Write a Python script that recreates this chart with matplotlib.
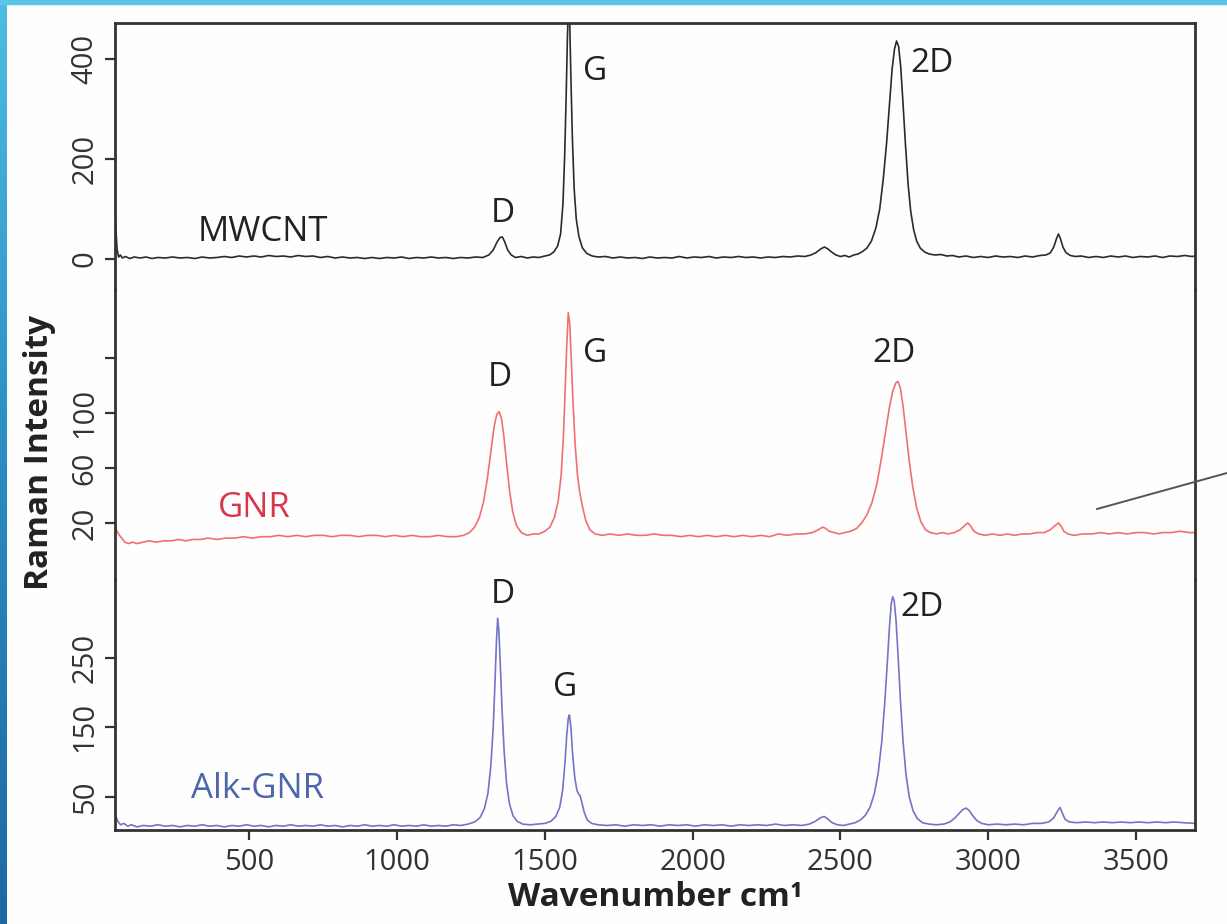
import numpy as np
import matplotlib
matplotlib.use("Agg")
import matplotlib.pyplot as plt
from matplotlib.colors import LinearSegmentedColormap
from matplotlib.patches import Rectangle
from matplotlib.lines import Line2D

plt.rcParams['font.family'] = ['Open Sans', 'DejaVu Sans']

# spectra: (wavenumber, intensity)
mwcnt = [(45, 95), (48, 60), (52, 20), (57, 4), (63, 8), (70, 2), (80, 5), (95, 1), (110, 4), (130, 2),
         (150, 4), (170, 1), (190, 3), (215, 2), (240, 4), (265, 2), (290, 3), (315, 1), (340, 4), (365, 2),
         (390, 3), (415, 5), (440, 3), (465, 6), (490, 4), (515, 6), (540, 4), (565, 7), (590, 5), (615, 6),
         (640, 4), (665, 7), (690, 5), (715, 6), (740, 3), (765, 5), (790, 2), (815, 4), (840, 2), (865, 3),
         (890, 1), (915, 3), (940, 1), (965, 3), (990, 2), (1015, 4), (1040, 1), (1065, 3), (1090, 2),
         (1115, 4), (1140, 2), (1165, 3), (1190, 1), (1215, 3), (1240, 2), (1265, 4), (1290, 3), (1310, 8),
         (1325, 18), (1338, 34), (1348, 43), (1356, 44), (1364, 34), (1374, 18), (1386, 8), (1400, 3),
         (1420, 5), (1440, 2), (1460, 4), (1480, 3), (1500, 6), (1515, 8), (1530, 14), (1543, 26), (1553, 50),
         (1561, 110), (1567, 210), (1572, 330), (1576, 440), (1580, 520), (1584, 470), (1588, 360),
         (1593, 240), (1599, 140), (1606, 80), (1615, 45), (1627, 22), (1642, 11), (1660, 6), (1680, 4),
         (1705, 5), (1730, 2), (1755, 4), (1780, 2), (1805, 3), (1830, 1), (1855, 4), (1880, 2), (1905, 3),
         (1930, 2), (1955, 5), (1980, 2), (2005, 4), (2030, 3), (2055, 5), (2080, 2), (2105, 4), (2130, 3),
         (2155, 5), (2180, 3), (2205, 4), (2230, 2), (2255, 4), (2280, 3), (2305, 5), (2330, 4), (2355, 6),
         (2380, 5), (2400, 8), (2418, 13), (2433, 20), (2446, 24), (2458, 20), (2470, 14), (2485, 8),
         (2500, 5), (2515, 7), (2530, 4), (2545, 8), (2560, 10), (2575, 15), (2590, 22), (2605, 36),
         (2620, 62), (2633, 100), (2645, 160), (2656, 230), (2666, 310), (2675, 380), (2683, 420),
         (2690, 436), (2697, 425), (2704, 385), (2712, 310), (2720, 230), (2729, 150), (2738, 95),
         (2748, 58), (2758, 36), (2770, 22), (2785, 14), (2800, 10), (2820, 8), (2840, 9), (2860, 6),
         (2880, 7), (2900, 4), (2925, 6), (2950, 3), (2975, 5), (3000, 3), (3025, 6), (3050, 4), (3075, 5),
         (3100, 3), (3125, 6), (3150, 4), (3175, 7), (3195, 8), (3210, 12), (3222, 24), (3232, 42),
         (3238, 50), (3245, 40), (3253, 24), (3263, 13), (3278, 7), (3295, 5), (3315, 6), (3340, 3),
         (3365, 5), (3390, 3), (3415, 6), (3440, 4), (3465, 6), (3490, 3), (3515, 5), (3540, 4), (3565, 6),
         (3590, 3), (3615, 6), (3640, 5), (3665, 7), (3690, 5), (3700, 6)]

gnr = [(45, 16), (52, 14), (60, 11), (68, 9), (78, 6), (90, 5), (105, 6), (120, 5), (140, 6), (160, 7),
       (185, 6), (210, 7), (235, 7), (260, 8), (285, 7), (310, 8), (335, 8), (360, 9), (390, 8), (420, 9),
       (450, 9), (480, 10), (510, 9), (540, 10), (570, 10), (600, 11), (630, 10), (660, 11), (690, 10),
       (720, 11), (750, 11), (780, 10), (810, 11), (840, 11), (870, 10), (900, 11), (930, 11), (960, 10),
       (990, 11), (1020, 10), (1050, 11), (1080, 10), (1110, 10), (1140, 11), (1170, 10), (1200, 10),
       (1225, 11), (1245, 13), (1262, 17), (1278, 24), (1292, 35), (1305, 52), (1317, 72), (1328, 90),
       (1337, 99), (1345, 101), (1353, 96), (1361, 83), (1370, 64), (1380, 44), (1391, 28), (1404, 18),
       (1420, 13), (1440, 11), (1460, 12), (1480, 12), (1500, 14), (1517, 17), (1532, 24), (1545, 36),
       (1555, 55), (1563, 85), (1569, 120), (1574, 150), (1579, 173), (1584, 165), (1589, 140),
       (1595, 108), (1602, 78), (1610, 55), (1618, 42), (1627, 32), (1638, 22), (1652, 15), (1670, 12),
       (1695, 11), (1720, 12), (1750, 11), (1780, 12), (1810, 11), (1840, 11), (1870, 12), (1900, 11),
       (1930, 11), (1960, 10), (1990, 11), (2020, 10), (2050, 11), (2080, 10), (2110, 11), (2140, 10),
       (2170, 11), (2200, 10), (2230, 11), (2260, 10), (2290, 12), (2320, 11), (2350, 12), (2380, 12),
       (2405, 13), (2425, 15), (2440, 17), (2450, 16), (2462, 14), (2478, 13), (2495, 12), (2515, 13),
       (2535, 14), (2555, 16), (2572, 20), (2590, 26), (2607, 35), (2623, 48), (2638, 66), (2652, 85),
       (2665, 103), (2677, 116), (2688, 122), (2695, 123), (2703, 118), (2712, 105), (2722, 86),
       (2733, 65), (2745, 46), (2758, 31), (2772, 21), (2788, 15), (2805, 13), (2825, 12), (2845, 13),
       (2865, 12), (2885, 13), (2905, 15), (2920, 18), (2931, 20), (2940, 18), (2952, 14), (2968, 12),
       (2990, 11), (3015, 12), (3040, 11), (3065, 12), (3090, 11), (3115, 12), (3140, 12), (3165, 13),
       (3190, 13), (3210, 15), (3226, 18), (3238, 20), (3246, 18), (3256, 14), (3270, 12), (3290, 11),
       (3320, 12), (3350, 12), (3380, 13), (3410, 12), (3440, 13), (3470, 12), (3500, 13), (3530, 13),
       (3560, 12), (3590, 13), (3620, 13), (3650, 14), (3680, 13), (3700, 13)]

alk_gnr = [(45, 24), (50, 20), (56, 14), (64, 10), (75, 12), (88, 8), (100, 10), (120, 7), (140, 9),
           (165, 8), (190, 10), (215, 8), (240, 9), (265, 7), (290, 9), (315, 8), (340, 10), (365, 8),
           (390, 9), (415, 7), (440, 9), (465, 8), (490, 10), (515, 8), (540, 9), (565, 7), (590, 9),
           (615, 8), (640, 10), (665, 8), (690, 9), (715, 8), (740, 10), (765, 8), (790, 9), (815, 7),
           (840, 9), (865, 8), (890, 10), (915, 8), (940, 9), (965, 8), (990, 10), (1015, 8), (1040, 9),
           (1065, 8), (1090, 10), (1115, 8), (1140, 9), (1165, 8), (1190, 10), (1215, 9), (1240, 11),
           (1262, 14), (1280, 20), (1295, 33), (1307, 55), (1317, 95), (1325, 150), (1331, 215),
           (1336, 275), (1340, 307), (1344, 290), (1349, 240), (1355, 175), (1362, 115), (1370, 70),
           (1380, 40), (1392, 23), (1406, 15), (1425, 11), (1450, 10), (1475, 11), (1500, 12), (1520, 15),
           (1537, 22), (1550, 35), (1560, 60), (1568, 100), (1574, 140), (1579, 163), (1583, 168),
           (1588, 150), (1594, 110), (1601, 78), (1608, 60), (1614, 54), (1619, 52), (1625, 42),
           (1633, 28), (1643, 17), (1658, 12), (1680, 10), (1710, 9), (1740, 10), (1770, 8), (1800, 10),
           (1830, 9), (1860, 10), (1890, 8), (1920, 10), (1950, 9), (1980, 10), (2010, 8), (2040, 10),
           (2070, 9), (2100, 10), (2130, 8), (2160, 10), (2190, 9), (2220, 10), (2250, 9), (2280, 11),
           (2310, 9), (2340, 10), (2370, 9), (2395, 11), (2415, 15), (2432, 20), (2445, 22), (2458, 18),
           (2472, 13), (2490, 10), (2510, 9), (2530, 11), (2550, 13), (2568, 17), (2585, 24), (2600, 35),
           (2615, 55), (2628, 85), (2640, 130), (2650, 185), (2659, 245), (2666, 295), (2672, 328),
           (2677, 338), (2682, 332), (2688, 305), (2695, 255), (2703, 190), (2712, 130), (2722, 82),
           (2733, 50), (2746, 30), (2760, 19), (2778, 13), (2800, 11), (2825, 10), (2850, 11), (2870, 14),
           (2888, 20), (2903, 27), (2915, 32), (2925, 34), (2935, 31), (2948, 23), (2962, 16), (2978, 12),
           (3000, 10), (3030, 11), (3060, 10), (3090, 11), (3120, 10), (3150, 12), (3180, 12), (3205, 14),
           (3222, 20), (3235, 30), (3243, 35), (3250, 28), (3260, 18), (3275, 14), (3300, 13), (3330, 14),
           (3360, 13), (3390, 14), (3420, 13), (3450, 14), (3480, 13), (3510, 14), (3540, 13), (3570, 14),
           (3600, 13), (3630, 14), (3660, 13), (3700, 12)]

x_ticks = [500, 1000, 1500, 2000, 2500, 3000, 3500]
panel_names = ['MWCNT', 'GNR', 'Alk-GNR']
panel_yticks = [[0, 200, 400], [20, 60, 100, 140], [50, 150, 250]]
panel_yticklabels = [['0', '200', '400'], ['20', '60', '100', ''], ['50', '150', '250']]
panel_ylims = [(-62, 472), (-21.5, 189.5), (2.5, 362)]
# peak label positions (wavenumber, intensity)
peak_labels = [
    [('D', 1356, 90), ('G', 1670, 374), ('2D', 2810, 390)],
    [('D', 1348, 126), ('G', 1670, 143), ('2D', 2681, 143)],
    [('D', 1356, 341), ('G', 1568, 207), ('2D', 2776, 322)],
]
name_pos = [(544, 54), (517, 31), (527, 62)]
line_colors = ['#2b2b2b', '#f07070', '#7373c8']
name_colors = ['#222222', '#d9364c', '#4b66ab']

fig = plt.figure(figsize=(12.27, 9.24), dpi=100, facecolor='#fefefe')

# slide decoration: blue strips on left and top
grad_ax = fig.add_axes([0, 0, 7 / 1227, 1])
cmap = LinearSegmentedColormap.from_list('edge', ['#4dbde2', '#2a8cc2', '#1e68a2'])
grad_ax.imshow(np.linspace(0, 1, 256).reshape(-1, 1), aspect='auto', cmap=cmap)
grad_ax.axis('off')
fig.patches.append(Rectangle((0, 1 - 4 / 924), 1, 4 / 924, transform=fig.transFigure,
                             color='#5cc4e6', zorder=5))

gs = fig.add_gridspec(3, 1, left=115 / 1227, right=1195 / 1227, top=1 - 23 / 924, bottom=1 - 830 / 924,
                      height_ratios=[267, 290, 250], hspace=0)
axes = [fig.add_subplot(gs[i]) for i in range(3)]

spectra = [mwcnt, gnr, alk_gnr]
for i, ax in enumerate(axes):
    wn, inten = np.array(spectra[i]).T
    ax.plot(wn, inten, color=line_colors[i], lw=1.2)
    ax.set_xlim(45, 3700)
    ax.set_ylim(*panel_ylims[i])
    ax.set_yticks(panel_yticks[i])
    ax.set_yticklabels(panel_yticklabels[i], rotation=90, va='center', fontsize=21, color='#333333')
    ax.set_xticks(x_ticks)
    ax.tick_params(axis='both', direction='out', length=7, width=1.6, color='#333333', pad=4)
    for s in ax.spines.values():
        s.set_linewidth(2)
        s.set_color('#333333')
    if i > 0:
        ax.spines['top'].set_visible(False)
    if i < 2:
        ax.spines['bottom'].set_visible(False)
        ax.tick_params(axis='x', bottom=False, labelbottom=False)
    ax.set_facecolor('none')
    nx, ny = name_pos[i]
    ax.text(nx, ny, panel_names[i], color=name_colors[i], fontsize=25, ha='center', va='center')
    for lab, px, py in peak_labels[i]:
        ax.text(px, py, lab, color='#222222', fontsize=24, ha='center', va='center')

axes[2].set_xticklabels([str(t) for t in x_ticks], fontsize=21, color='#333333')
axes[2].tick_params(axis='x', pad=6)
axes[2].set_xlabel('Wavenumber cm¹', fontsize=24, fontweight='bold', color='#222222', labelpad=3)
fig.text(40 / 1227, 1 - 452 / 924, 'Raman Intensity', rotation=90, fontsize=24, fontweight='bold',
         color='#222222', ha='center', va='center')

# pointer line coming in from the right of the slide
fig.add_artist(Line2D([1097 / 1227, 1.0], [1 - 509 / 924, 1 - 473 / 924], transform=fig.transFigure,
                      color='#555555', lw=1.4))

fig.savefig('out.png', dpi=100, facecolor=fig.get_facecolor())
